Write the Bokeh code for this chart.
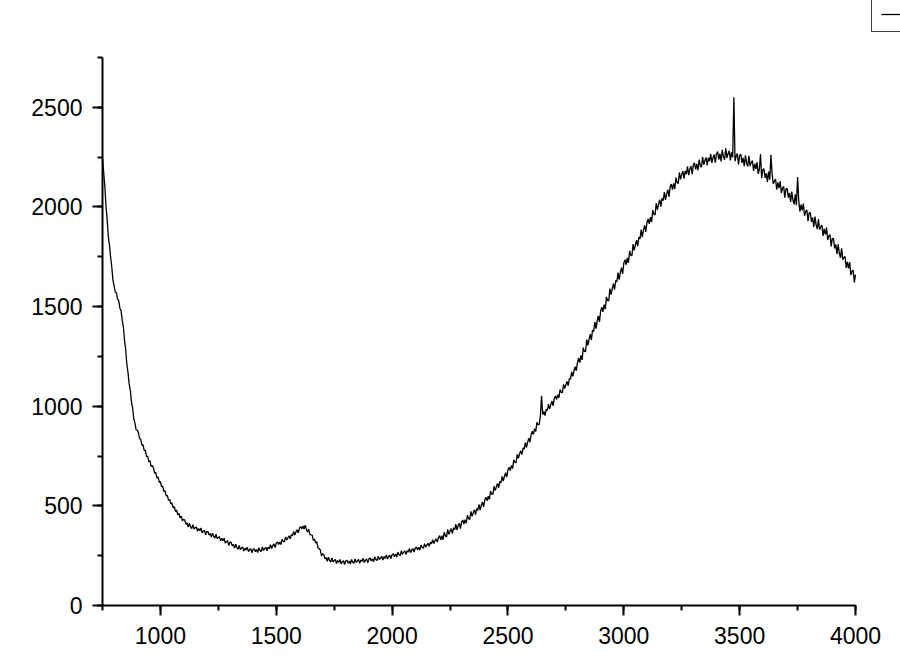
from bokeh.plotting import figure
from bokeh.models import Range1d, SingleIntervalTicker, Legend, LegendItem
from bokeh.embed import file_html
from bokeh.resources import INLINE

x_start = 750
x_step = 5

seg_750_900 = [
    2250, 2175, 2105, 2005, 1940, 1852, 1810, 1748, 1700, 1632,
    1605, 1572, 1570, 1538, 1530, 1492, 1480, 1432, 1400, 1332,
    1285, 1212, 1170, 1112, 1080, 1022, 990, 938, 915, 882, 880,
]
seg_905_1100 = [
    868, 838, 835, 805, 806, 778, 779, 748, 750, 722,
    726, 698, 702, 690, 664, 668, 640, 645, 618, 622,
    596, 598, 572, 575, 550, 552, 528, 532, 510, 514,
    490, 496, 472, 478, 455, 462, 440, 448, 425, 432,
]
seg_1105_1615 = [
    429, 408, 414, 394, 413, 396, 386, 405, 384, 390,
    394, 373, 386, 375, 389, 365, 373, 377, 354, 371,
    371, 353, 361, 343, 363, 347, 338, 358, 336, 342,
    345, 324, 337, 325, 338, 313, 321, 324, 301, 317,
    318, 299, 307, 288, 308, 291, 282, 301, 281, 288,
    293, 273, 288, 278, 293, 270, 280, 285, 264, 282,
    285, 270, 281, 266, 290, 276, 271, 294, 276, 285,
    292, 274, 293, 286, 305, 286, 300, 309, 291, 313,
    319, 306, 319, 306, 332, 322, 319, 344, 329, 340,
    349, 334, 355, 350, 371, 354, 369, 380, 365, 388,
    396, 384, 399,
]
seg_1620_1760 = [
    384, 403, 382, 369, 383, 356, 354, 353, 327, 333,
    314, 320, 288, 286, 279, 249, 260, 256, 234, 241,
    222, 242, 226, 218, 239, 219, 226, 231, 211,
]
seg_1765_2200 = [
    226, 216, 231, 209, 219, 225, 205, 224, 227, 212,
    223, 208, 231, 217, 212, 234, 216, 224, 231, 212,
    229, 221, 237, 216, 227, 234, 214, 234, 238, 223,
    235, 220, 244, 231, 225, 248, 230, 239, 246, 228,
    245, 237, 254, 233, 246, 253, 235, 255, 260, 245,
    258, 243, 268, 255, 251, 275, 257, 267, 274, 257,
    275, 268, 286, 265, 278, 286, 268, 289, 294, 279,
    292, 278, 303, 291, 287, 310, 293, 303, 312, 297,
    316, 310, 330, 311, 325, 335, 318, 340,
]
seg_2205_2800 = [
    351, 330, 350, 330, 368, 350, 344, 382, 357, 373,
    386, 361, 390, 380, 408, 379, 400, 413, 386, 419,
    429, 409, 431, 413, 453, 436, 432, 472, 448, 465,
    480, 456, 486, 477, 507, 479, 503, 519, 495, 531,
    543, 525, 549, 532, 574, 559, 558, 599, 577, 596,
    612, 591, 623, 616, 648, 624, 649, 666, 644, 681,
    694, 677, 703, 687, 731, 717, 717, 759, 739, 760,
    777, 757, 790, 785, 817, 793, 820, 840, 819, 859,
    874, 859, 887, 873, 919, 907, 909, 954, 1052, 958,
    974, 953, 985, 979, 1010, 985, 1009, 1026, 1002, 1039,
    1051, 1034, 1058, 1042, 1084, 1070, 1068, 1110, 1088, 1108,
    1124, 1103, 1139, 1136, 1172, 1150, 1178, 1198, 1179, 1219,
]
seg_2805_3400 = [
    1242, 1219, 1255, 1232, 1294, 1275, 1274, 1335, 1305, 1334,
    1362, 1333, 1382, 1375, 1424, 1389, 1427, 1453, 1423, 1478,
    1497, 1474, 1510, 1487, 1549, 1530, 1529, 1590, 1560, 1589,
    1615, 1585, 1632, 1624, 1671, 1635, 1671, 1696, 1664, 1718,
    1735, 1710, 1744, 1719, 1779, 1758, 1755, 1814, 1782, 1809,
    1834, 1803, 1849, 1840, 1886, 1849, 1884, 1908, 1875, 1923,
    1940, 1915, 1949, 1924, 1984, 1963, 1960, 2019, 1987, 2014,
    2036, 2002, 2044, 2032, 2075, 2035, 2066, 2087, 2051, 2101,
    2115, 2087, 2118, 2090, 2147, 2123, 2117, 2173, 2138, 2162,
    2180, 2142, 2181, 2165, 2204, 2160, 2188, 2205, 2165, 2211,
    2221, 2189, 2216, 2184, 2237, 2209, 2199, 2251, 2212, 2232,
    2249, 2209, 2247, 2229, 2267, 2221, 2248, 2263, 2222, 2266,
]
seg_3405_4000 = [
    2278, 2238, 2267, 2228, 2287, 2252, 2237, 2294, 2246, 2267,
    2282, 2234, 2274, 2249, 2550, 2230, 2255, 2268, 2214, 2259,
    2265, 2221, 2246, 2204, 2259, 2220, 2203, 2256, 2205, 2223,
    2233, 2181, 2217, 2190, 2225, 2166, 2189, 2265, 2144, 2188,
    2191, 2146, 2169, 2125, 2178, 2137, 2262, 2168, 2115, 2130,
    2140, 2087, 2123, 2095, 2130, 2070, 2093, 2103, 2047, 2090,
    2093, 2047, 2070, 2025, 2077, 2035, 2013, 2063, 2009, 2150,
    2032, 1977, 2012, 1983, 2017, 1956, 1977, 1986, 1929, 1971,
    1972, 1925, 1947, 1900, 1952, 1910, 1889, 1939, 1886, 1900,
    1909, 1855, 1890, 1862, 1896, 1835, 1855, 1861, 1802, 1842,
    1841, 1792, 1812, 1763, 1813, 1769, 1745, 1793, 1735, 1746,
    1751, 1694, 1725, 1692, 1723, 1658, 1677, 1682, 1621, 1660,
]

intensity = (seg_750_900 + seg_905_1100 + seg_1105_1615 + seg_1620_1760
             + seg_1765_2200 + seg_2205_2800 + seg_2805_3400 + seg_3405_4000)
wavenumber = [x_start + i * x_step for i in range(len(intensity))]

x_axis_bounds = (750, 4000)
y_axis_bounds = (0, 2750)
x_tick_interval = 500
y_tick_interval = 500

# The plotting frame reaches the right and top edges of the page (so the partly
# hidden legend box can sit there); the axes themselves stop at their bounds.
frame_left, frame_bottom = 102, 64
frame_w, frame_h = 900 - frame_left, 669 - frame_bottom
axis_px_w, axis_px_h = 753, 548
x_end = x_axis_bounds[0] + (x_axis_bounds[1] - x_axis_bounds[0]) * frame_w / axis_px_w
y_end = y_axis_bounds[0] + (y_axis_bounds[1] - y_axis_bounds[0]) * frame_h / axis_px_h

p = figure(width=900, height=669, output_backend="svg", toolbar_location=None,
           x_range=Range1d(x_axis_bounds[0], x_end), y_range=Range1d(y_axis_bounds[0], y_end),
           min_border_left=frame_left, min_border_right=0, min_border_top=0,
           min_border_bottom=frame_bottom)
p.outline_line_color = None
p.xgrid.visible = False
p.ygrid.visible = False
p.background_fill_color = "white"
p.border_fill_color = "white"

r = p.line(wavenumber, intensity, line_color="black", line_width=1.3)

p.xaxis.ticker = SingleIntervalTicker(interval=x_tick_interval, num_minor_ticks=2)
p.yaxis.ticker = SingleIntervalTicker(interval=y_tick_interval, num_minor_ticks=2)
p.xaxis.bounds = x_axis_bounds
p.yaxis.bounds = y_axis_bounds
for ax in (p.xaxis, p.yaxis):
    ax.axis_line_width = 2
    ax.axis_line_color = "black"
    ax.major_tick_line_width = 2
    ax.minor_tick_line_width = 2
    ax.major_tick_line_color = "black"
    ax.minor_tick_line_color = "black"
    ax.major_tick_out = 10
    ax.major_tick_in = 0
    ax.minor_tick_out = 5
    ax.minor_tick_in = 0
    ax.major_label_text_font = "Liberation Sans"
    ax.major_label_text_font_size = "23px"
    ax.major_label_text_color = "black"
p.xaxis.major_label_standoff = 11
p.yaxis.major_label_standoff = 10

legend = Legend(items=[LegendItem(label=" ", renderers=[r])],
                location=(871 - frame_left, frame_h - 32),
                padding=9, margin=0, spacing=0,
                glyph_width=30, glyph_height=16,
                label_height=16, label_width=1, label_standoff=0,
                label_text_font_size="10px",
                border_line_color="#404040", border_line_width=1, border_line_alpha=1.0,
                background_fill_color="white", background_fill_alpha=1.0)
p.add_layout(legend, "center")

open("out.html", "w").write(file_html(p, INLINE))
